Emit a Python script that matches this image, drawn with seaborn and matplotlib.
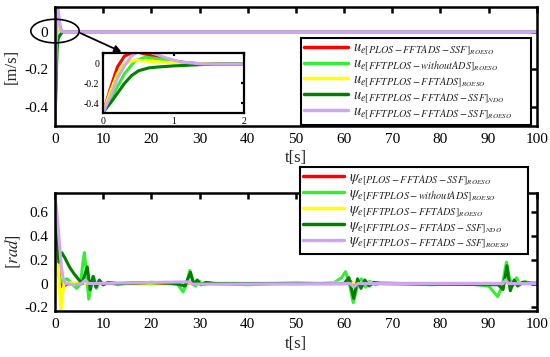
import matplotlib
matplotlib.use("Agg")
import matplotlib.pyplot as plt
import seaborn as sns
import pandas as pd
from matplotlib.patches import Ellipse

# ---------------- data ----------------
names = ["PLOS-FFTADS-SSF", "FFTPLOS-withoutADS", "FFTPLOS-FFTADS", "FFTPLOS-FFTADS-SSF", "FFTPLOS-FFTADS-SSF"]
subs = ["ROESO", "ROESO", "ROESO", "NDO", "ROESO"]
colors = ["#ff0000", "#33ee33", "#ffff00", "#008000", "#cfa6f2"]

# surge velocity error u_e
u_t_red = [0, 0.1, 0.2, 0.3, 0.45, 0.6, 0.8, 1.1, 1.4, 2, 100]
u_v_red = [-0.49, -0.25, -0.03, 0.08, 0.13, 0.1, 0.06, 0.02, 0.0, 0, 0]
u_t_grn = [0, 0.15, 0.3, 0.45, 0.6, 0.8, 1.0, 1.3, 2, 100]
u_v_grn = [-0.49, -0.3, -0.1, 0.03, 0.07, 0.05, 0.02, 0.0, 0, 0]
u_t_yel = [0, 0.1, 0.2, 0.3, 0.45, 0.6, 0.8, 1.1, 1.5, 2, 100]
u_v_yel = [-0.49, -0.28, -0.1, 0.0, 0.04, 0.03, 0.02, 0.01, 0, 0, 0]
u_t_dg = [0, 0.1, 0.2, 0.3, 0.4, 0.5, 0.65, 0.8, 1.0, 1.3, 1.6, 2, 100]
u_v_dg = [-0.49, -0.4, -0.3, -0.2, -0.12, -0.07, -0.04, -0.03, -0.02, -0.01, 0, 0, 0]
u_t_pur = [0, 0.1, 0.2, 0.3, 0.4, 0.5, 0.6, 0.75, 0.9, 1.1, 1.4, 2, 100]
u_v_pur = [-0.49, -0.33, -0.15, -0.02, 0.08, 0.13, 0.14, 0.1, 0.06, 0.02, 0, 0, 0]

# heading error psi_e
p_t_red = [0, 0.3, 0.6, 0.9, 1.2, 1.6, 2.2, 3, 5, 6.2, 7, 10, 27.5, 28.2, 29, 60.5, 61.3, 62, 63, 92.8, 93.4, 94.2, 100]
p_v_red = [0.74, 0.45, 0.2, 0.06, 0.0, -0.03, -0.01, 0, -0.01, 0.01, 0, 0, 0, 0.01, 0, 0, 0.02, -0.01, 0, 0, 0.03, 0, 0]
p_t_grn = [0, 0.3, 0.7, 1.0, 1.5, 2.5, 3.5, 4.5, 5.3, 5.8, 6.1, 6.5, 7.0, 7.5, 8.0, 8.6, 9.2, 10, 11, 13, 16, 20, 23,
           25.5, 26.6, 27.3, 28, 28.6, 29.2, 30, 31, 32, 34, 40, 45, 50, 55, 58, 59.5, 60.3, 61, 61.9, 62.7, 63.6,
           64.5, 65.3, 66.5, 68, 72, 78, 85, 90, 91.9, 92.8, 93.7, 94.3, 95, 95.8, 96.5, 97.5, 98.5, 100]
p_v_grn = [0.74, 0.4, 0.1, 0.02, 0.02, 0.04, 0.0, -0.04, 0.0, 0.18, 0.26, 0.1, -0.13, -0.02, 0.06, -0.04, 0.02, -0.01,
           0.01, -0.01, 0.01, 0.0, 0.01, -0.01, -0.07, 0.0, 0.11, 0.03, -0.02, 0.02, -0.01, 0.01, 0, -0.01, 0.0, 0.01,
           0, 0.01, 0.05, 0.1, 0.02, -0.16, -0.03, 0.04, -0.03, 0.02, -0.01, 0.01, 0, -0.01, 0.0, -0.02, -0.11, -0.02,
           0.18, 0.05, -0.02, 0.05, -0.01, 0.02, 0.0, 0.01]
p_t_yel = [0, 0.4, 0.8, 1.2, 1.5, 1.9, 3, 100]
p_v_yel = [0.74, 0.4, 0.05, -0.22, -0.1, 0.0, 0.005, 0.005]
p_t_dg = [0, 0.4, 0.8, 1.4, 2, 3, 4, 5, 5.6, 6.0, 6.7, 7.3, 7.9, 8.5, 9.2, 10, 11, 13, 20, 25, 27, 28.1, 28.8, 29.5,
          30.3, 31.3, 33, 60, 61, 62, 62.8, 63.5, 64.3, 65.2, 66.2, 68, 92, 93, 93.8, 94.5, 95.3, 96, 97, 100]
p_v_dg = [0.74, 0.4, 0.18, 0.26, 0.22, 0.14, 0.08, 0.03, 0.0, 0.05, 0.14, -0.05, 0.06, -0.03, 0.03, -0.01, 0.01, 0.0,
          0.01, 0.0, -0.02, 0.095, -0.01, 0.03, -0.01, 0.01, 0, 0.0, 0.05, -0.125, 0.04, -0.04, 0.03, -0.02, 0.01, 0,
          -0.01, -0.05, 0.15, -0.06, 0.03, -0.02, 0.01, 0]
p_t_pur = [0, 0.35, 0.7, 1.0, 1.3, 1.7, 2.2, 4, 5.5, 6.3, 7, 28, 28.5, 61.3, 62, 62.8, 93, 93.5, 94.2, 100]
p_v_pur = [0.74, 0.61, 0.45, 0.3, 0.15, 0.04, 0.0, -0.01, 0.0, 0.03, 0.0, 0.015, -0.005, 0.0, -0.03, 0.0, 0.0, 0.03, 0.0, 0]

u_series = [(u_t_red, u_v_red), (u_t_grn, u_v_grn), (u_t_yel, u_v_yel), (u_t_dg, u_v_dg), (u_t_pur, u_v_pur)]
p_series = [(p_t_red, p_v_red), (p_t_grn, p_v_grn), (p_t_yel, p_v_yel), (p_t_dg, p_v_dg), (p_t_pur, p_v_pur)]

x_ticks = [0, 10, 20, 30, 40, 50, 60, 70, 80, 90, 100]
u_yticks = [-0.4, -0.2, 0]
p_yticks = [-0.2, 0, 0.2, 0.4, 0.6]
inset_xticks = [0, 1, 2]

# ---------------- style ----------------
sns.set_style("white")
plt.rcParams["font.family"] = ["Liberation Serif", "DejaVu Serif"]
plt.rcParams["mathtext.fontset"] = "stix"
plt.rcParams["axes.unicode_minus"] = False

fig = plt.figure(figsize=(5.5, 3.57), dpi=100)
ax1 = fig.add_axes([0.1, 0.647, 0.876, 0.333])
ax2 = fig.add_axes([0.1, 0.129, 0.876, 0.330])
axin = fig.add_axes([0.188, 0.684, 0.255, 0.167])


def draw(ax, series, labels=None, lw=2.2):
    for i, (t, v) in enumerate(series):
        df = pd.DataFrame({"t": t, "v": v})
        sns.lineplot(data=df, x="t", y="v", ax=ax, color=colors[i], lw=lw,
                     estimator=None, sort=False,
                     label=None if labels is None else labels[i], legend=False)


def style(ax, lw=1.8, fs=11, ticklen=4, pad=5):
    for s in ax.spines.values():
        s.set_linewidth(lw)
        s.set_color("black")
    ax.tick_params(direction="in", length=ticklen, width=lw, top=True, right=True,
                   labelsize=fs, colors="black", pad=pad)
    ax.set_xlabel("")
    ax.set_ylabel("")


u_labels = [r"$u_{e[%s]_{%s}}$" % (n, s) for n, s in zip(names, subs)]
p_labels = [r"$\psi_{e[%s]_{%s}}$" % (n, s) for n, s in zip(names, subs)]

draw(ax1, u_series, u_labels)
ax1.set_xlim(0, 100)
ax1.set_ylim(-0.5, 0.13)
ax1.set_xticks(x_ticks)
ax1.set_yticks(u_yticks)
ax1.set_yticklabels(["-0.4", "-0.2", "0"])
style(ax1)
ax1.set_xlabel("t[s]", fontsize=12, labelpad=3)
ax1.set_ylabel("[m/s]", fontsize=12, labelpad=3)

draw(axin, u_series)
axin.set_xlim(0, 2)
axin.set_ylim(-0.5, 0.11)
axin.set_xticks(inset_xticks)
axin.set_yticks(u_yticks)
axin.set_yticklabels(["-0.4", "-0.2", "0"])
style(axin, lw=1.6, fs=7, ticklen=2.5, pad=3)

draw(ax2, p_series, p_labels)
ax2.set_xlim(0, 100)
ax2.set_ylim(-0.23, 0.76)
ax2.set_xticks(x_ticks)
ax2.set_yticks(p_yticks)
ax2.set_yticklabels(["-0.2", "0", "0.2", "0.4", "0.6"])
style(ax2)
ax2.set_xlabel("t[s]", fontsize=12, labelpad=4)
ax2.set_ylabel(r"$[rad]$", fontsize=12, labelpad=1)

# legends
h1, l1 = ax1.get_legend_handles_labels()
leg1 = fig.legend(h1, l1, loc="upper left", bbox_to_anchor=(0.547, 0.655, 0.418, 0.239),
                  mode="expand", fontsize=10.5,
                  frameon=True, fancybox=False, edgecolor="black", framealpha=1,
                  handlelength=3.0, handletextpad=0.3, labelspacing=0.0, borderpad=0.25,
                  borderaxespad=0)
leg1.get_frame().set_linewidth(1.5)
h2, l2 = ax2.get_legend_handles_labels()
leg2 = fig.legend(h2, l2, loc="upper left", bbox_to_anchor=(0.545, 0.289, 0.415, 0.243),
                  mode="expand", fontsize=10.5,
                  frameon=True, fancybox=False, edgecolor="black", framealpha=1,
                  handlelength=2.8, handletextpad=0.3, labelspacing=0.0, borderpad=0.25,
                  borderaxespad=0)
leg2.get_frame().set_linewidth(1.5)
for lg in (leg1, leg2):
    for ln in lg.get_lines():
        ln.set_linewidth(2.5)

# ellipse and arrow (annotation)
ell = Ellipse((0.1, 0.913), 0.088, 0.066, transform=fig.transFigure, fill=False,
              edgecolor="black", lw=1.2)
fig.add_artist(ell)
fig.add_artist(matplotlib.patches.FancyArrowPatch(
    (78 / 550, 1 - 32 / 357), (124 / 550, 1 - 53 / 357), transform=fig.transFigure,
    arrowstyle="-|>", mutation_scale=10, color="black", lw=1.3))

fig.savefig("out.png", dpi=100)
